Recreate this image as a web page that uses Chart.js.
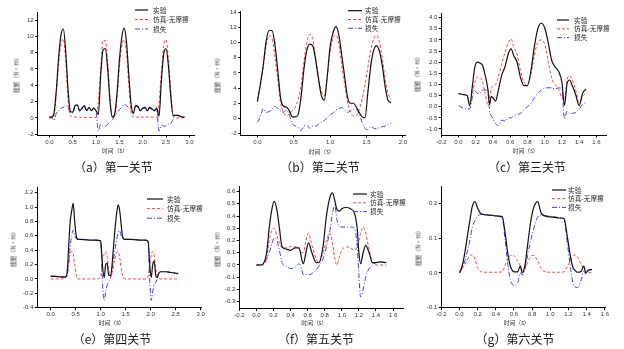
<!DOCTYPE html>
<html><head><meta charset="utf-8">
<script src="https://cdn.jsdelivr.net/npm/chart.js@4/dist/chart.umd.min.js"></script>
<style>
body{margin:0;width:624px;height:349px;background:#fff;position:relative;overflow:hidden;font-family:"Noto Sans CJK SC",sans-serif;}
canvas{position:absolute;}
.cap{position:absolute;font-size:12px;color:#1a1a1a;transform:translate(-50%,-50%);white-space:nowrap;}
.xt{position:absolute;font-size:5.8px;color:#333;transform:translate(-50%,-50%);white-space:nowrap;}
.yt{position:absolute;font-size:5.8px;color:#333;transform:translate(-50%,-50%) rotate(-90deg);white-space:nowrap;}
</style></head><body>
<script>
const seriesNames = ['实验', '仿真-无摩擦', '损失'];
const xTitle = '时间（s）';
const yTitle = '扭矩（N·m）';
const captions = ['（a）第一关节','（b）第二关节','（c）第三关节','（e）第四关节','（f）第五关节','（g）第六关节'];

// (a)
const aTime = [0,0.05,0.1,0.15,0.2,0.25,0.3,0.35,0.4,0.45,0.5,0.55,0.6,0.65,0.7,0.75,0.8,0.85,0.9,0.95,1.0,1.05,1.1,1.15,1.2,1.25,1.3,1.35,1.4,1.45,1.5,1.55,1.6,1.65,1.7,1.75,1.8,1.85,1.9,1.95,2.0,2.05,2.1,2.15,2.2,2.25,2.3,2.35,2.4,2.45,2.5,2.55,2.6,2.65,2.7,2.75,2.8,2.85,2.9];
const aExp  = [0.1,0.1,0.6,3.5,7.5,10.2,10.9,8.2,3.5,0.8,0.7,1.5,1.6,0.9,1.2,1.5,0.9,1.3,0.9,1.2,0.9,0.4,5.2,8.3,8.5,6.0,2.0,0.1,0.5,3.0,7.0,9.8,11.0,9.5,5.5,1.8,0.6,1.5,1.4,0.9,1.2,1.3,0.9,1.3,1.1,0.9,1.2,0.2,4.5,7.8,8.5,6.5,2.8,0.3,0.3,0.3,0.2,0.1,0.1];
const aSim  = [0,0,0.3,3.0,6.8,9.0,9.7,7.0,2.3,0.3,0.1,0.1,0.1,0.1,0.05,0.05,0.05,0.05,0.05,0.05,0.1,2.0,6.0,9.5,9.5,6.8,2.5,0.1,0.2,2.5,6.2,8.8,9.6,8.2,4.3,0.8,0.1,0.1,0.1,0.1,0.1,0.1,0.1,0.1,0.1,0.1,0.1,1.8,5.5,8.8,9.6,7.3,3.5,0.5,0,0,0,0,0];
const aLoss = [0.1,0.1,-0.3,0.6,0.9,1.2,1.3,1.5,1.3,0.6,0.6,1.4,1.5,0.8,1.1,1.4,0.9,1.2,0.9,1.1,0.8,-1.6,-0.8,-1.0,-1.0,-0.8,-0.5,-0.3,0.3,0.6,1.0,1.3,1.7,1.5,1.3,1.0,0.5,1.4,1.3,0.8,1.1,1.2,0.8,1.2,1.0,0.8,1.1,-1.6,-0.9,-1.0,-1.0,-0.8,-0.7,-0.2,0.3,0.3,0.2,0.1,0.1];
const aXLabels = ['0.0','0.5','1.0','1.5','2.0','2.5','3.0'];
const aYLabels = ['-2','0','2','4','6','8','10','12'];

// (b)
const bTime = [0,0.04,0.08,0.12,0.16,0.2,0.24,0.28,0.32,0.36,0.4,0.44,0.48,0.52,0.56,0.6,0.64,0.68,0.72,0.76,0.8,0.84,0.88,0.92,0.96,1.0,1.04,1.08,1.12,1.16,1.2,1.24,1.28,1.32,1.36,1.4,1.44,1.48,1.52,1.56,1.6,1.64,1.68,1.72,1.76,1.8,1.84];
const bExp  = [2.2,4.5,7.0,10.2,11.6,11.6,9.8,6.3,2.6,1.6,1.5,1.0,0.2,0.2,0.5,2.8,6.5,9.0,9.8,9.6,7.8,5.2,3.0,2.4,5.5,9.5,11.3,12.1,11.0,8.3,5.5,2.8,2.0,2.0,1.5,0.8,0.2,0.1,3.5,7.0,9.0,9.6,8.8,6.8,4.0,2.3,2.1];
const bSim  = [2.5,4.3,6.8,9.5,10.9,10.6,8.2,5.2,2.0,0.8,0.3,0.6,1.0,1.5,2.5,4.3,7.5,10.0,11.1,10.5,8.0,5.5,3.6,3.0,5.5,8.8,10.6,11.0,9.8,7.0,4.5,2.2,0.8,0.3,0.4,1.2,2.5,4.5,6.8,9.0,10.5,11.0,10.0,7.8,5.0,3.2,2.6];
const bLoss = [-0.5,0.2,1.3,0.8,0.9,1.2,1.6,1.3,1.0,0.8,1.1,0.4,-0.7,-1.0,-1.2,-1.6,-1.0,-0.9,-1.3,-1.0,-1.0,-0.8,-0.5,-0.3,0.1,0.5,0.7,1.1,1.3,1.4,1.1,0.8,1.0,1.2,1.2,0.6,-0.5,-1.3,-1.5,-1.1,-1.3,-1.4,-1.2,-1.1,-1.0,-0.8,-0.6];
const bXLabels = ['0.0','0.5','1.0','1.5','2.0'];
const bYLabels = ['-2','0','2','4','6','8','10','12','14'];

// (c)
const cTime = [0,0.05,0.1,0.13,0.16,0.19,0.22,0.25,0.28,0.31,0.34,0.36,0.38,0.4,0.43,0.46,0.5,0.54,0.58,0.61,0.64,0.68,0.72,0.76,0.8,0.84,0.88,0.92,0.96,1.0,1.04,1.08,1.12,1.16,1.2,1.23,1.26,1.29,1.32,1.36,1.4,1.44,1.48];
const cExp  = [0.6,0.55,0.5,0.05,0.9,1.8,2.0,1.95,1.85,1.4,0.8,0.1,0.45,0.4,0.25,0.7,1.4,1.8,2.4,2.6,2.3,2.0,1.3,0.95,0.95,1.6,2.7,3.5,3.75,3.55,2.9,2.1,1.8,1.6,1.1,0.05,1.05,1.2,0.95,0.55,0.05,0.6,0.8];
const cSim  = [0.6,0.55,0.5,0.1,0.6,1.1,1.35,1.3,1.1,0.6,0.1,0.4,0.8,0.95,1.0,1.3,1.9,2.45,2.9,3.05,2.7,2.35,1.6,1.1,1.0,1.45,2.3,2.9,3.0,2.8,2.05,1.3,1.0,0.8,0.4,0.3,1.2,1.4,1.2,0.75,0.1,0.45,0.6];
const cLoss = [0.05,-0.05,-0.1,-0.1,0.4,0.7,0.6,0.6,0.75,0.75,0.75,-0.2,-0.4,-0.55,-0.75,-0.85,-0.6,-0.65,-0.5,-0.5,-0.4,-0.35,-0.3,-0.15,0.0,0.15,0.4,0.6,0.75,0.85,0.85,0.85,0.8,0.85,0.8,-0.55,-0.2,-0.3,-0.3,-0.25,-0.1,0.1,0.2];
const cXLabels = ['-0.2','0.0','0.2','0.4','0.6','0.8','1.0','1.2','1.4','1.6'];
const cYLabels = ['-1.0','-0.5','0.0','0.5','1.0','1.5','2.0','2.5','3.0','3.5','4.0'];

// (e)
const eTime = [0,0.1,0.2,0.3,0.33,0.36,0.39,0.42,0.45,0.48,0.51,0.55,0.6,0.7,0.8,0.9,1.0,1.02,1.04,1.07,1.1,1.13,1.16,1.2,1.24,1.28,1.32,1.35,1.38,1.41,1.44,1.48,1.52,1.6,1.7,1.8,1.9,1.95,1.98,2.01,2.04,2.07,2.1,2.13,2.16,2.2,2.3,2.4,2.5,2.55];
const eExp  = [0.04,0.035,0.03,0.03,0.1,0.45,0.8,0.95,1.05,0.8,0.6,0.55,0.55,0.545,0.54,0.54,0.53,0.35,0.15,0.02,0.2,0.22,0.05,0.05,0.3,0.65,0.92,1.03,0.95,0.75,0.58,0.55,0.55,0.55,0.545,0.54,0.54,0.52,0.2,0.02,0.2,0.25,0.05,0.02,0.08,0.1,0.1,0.09,0.08,0.075];
const eSim  = [0,0,0,0.02,0.1,0.25,0.35,0.38,0.35,0.2,0.06,0,0,0,0,0,0.02,0.15,0.28,0.34,0.38,0.3,0.12,0.03,0.12,0.28,0.37,0.38,0.3,0.15,0.05,0,0,0,0,0,0,0.04,0.2,0.33,0.38,0.33,0.15,0.05,0.01,0,0,0,0,0];
const eLoss = [0.04,0.035,0.03,0.02,0.05,0.2,0.45,0.6,0.68,0.6,0.56,0.55,0.55,0.545,0.54,0.54,0.52,0.2,-0.12,-0.3,-0.18,-0.08,-0.04,0.02,0.2,0.38,0.55,0.65,0.67,0.6,0.56,0.55,0.55,0.55,0.545,0.54,0.54,0.5,0.0,-0.3,-0.18,-0.08,-0.05,0.0,0.07,0.1,0.1,0.09,0.08,0.075];
const eXLabels = ['0.0','0.5','1.0','1.5','2.0','2.5','3.0'];
const eYLabels = ['-0.4','-0.2','0.0','0.2','0.4','0.6','0.8','1.0','1.2'];

// (f)
const fTime = [0,0.05,0.08,0.12,0.15,0.18,0.21,0.24,0.27,0.3,0.35,0.4,0.45,0.5,0.53,0.55,0.58,0.61,0.65,0.7,0.73,0.78,0.82,0.86,0.89,0.92,0.94,0.97,1.0,1.05,1.1,1.15,1.18,1.2,1.22,1.25,1.28,1.32,1.36,1.4,1.45,1.52];
const fExp  = [0,0,0.01,0.1,0.3,0.45,0.52,0.45,0.3,0.15,0.13,0.12,0.14,0.14,0.05,0.01,0.1,0.18,0.1,0.02,0.02,0.15,0.4,0.55,0.59,0.52,0.46,0.44,0.46,0.47,0.46,0.42,0.3,0.1,0.01,0.1,0.16,0.1,0.02,0.02,0.025,0.02];
const fSim  = [0,0,0,0.05,0.2,0.28,0.3,0.24,0.18,0.14,0.14,0.15,0.15,0.13,0.1,0.1,0.2,0.26,0.16,0.05,0.02,0.1,0.2,0.26,0.18,0.05,0.0,0.06,0.12,0.15,0.14,0.12,0.15,0.2,0.26,0.31,0.26,0.12,0.02,0,0,0];
const fLoss = [0,0,0.01,0.05,0.1,0.17,0.22,0.2,0.12,0.02,-0.01,-0.03,-0.02,0.01,-0.04,-0.08,-0.08,-0.08,-0.07,-0.04,-0.01,0.05,0.15,0.28,0.42,0.49,0.38,0.32,0.31,0.31,0.31,0.3,0.15,-0.08,-0.26,-0.2,-0.1,-0.03,0.0,0.02,0.025,0.02];
const fXLabels = ['-0.2','0.0','0.2','0.4','0.6','0.8','1.0','1.2','1.4','1.6'];
const fYLabels = ['-0.3','-0.2','-0.1','0.0','0.1','0.2','0.3','0.4','0.5','0.6'];

// (g)
const gTime = [0,0.03,0.06,0.09,0.12,0.14,0.17,0.2,0.23,0.27,0.3,0.35,0.4,0.47,0.5,0.53,0.56,0.58,0.6,0.64,0.67,0.69,0.72,0.75,0.78,0.8,0.82,0.86,0.9,0.95,1.0,1.05,1.1,1.15,1.19,1.22,1.25,1.27,1.3,1.34,1.37,1.39,1.42,1.46];
const gExp  = [0,0.02,0.06,0.11,0.16,0.19,0.205,0.186,0.172,0.168,0.167,0.166,0.164,0.162,0.12,0.06,0.02,0.008,0.003,0.003,0.02,0.0,0.02,0.08,0.14,0.17,0.19,0.205,0.172,0.163,0.161,0.16,0.158,0.157,0.1,0.05,0.015,0.008,0.002,0.005,0.02,0.0,0.008,0.01];
const gSim  = [0,0.012,0.025,0.04,0.05,0.052,0.04,0.015,0.005,0.002,0.002,0.002,0.002,0.003,0.02,0.04,0.05,0.052,0.05,0.035,0.02,0.008,0.012,0.03,0.045,0.05,0.05,0.035,0.012,0.003,0.002,0.002,0.002,0.003,0.02,0.035,0.048,0.052,0.045,0.025,0.012,0.006,0.002,0];
const gLoss = [0,0.015,0.035,0.065,0.1,0.13,0.15,0.163,0.168,0.167,0.166,0.165,0.163,0.16,0.1,0.03,-0.02,-0.032,-0.036,-0.03,0.0,-0.006,0.01,0.05,0.09,0.11,0.13,0.16,0.166,0.165,0.163,0.161,0.159,0.156,0.08,0.02,-0.03,-0.04,-0.042,-0.02,0.005,-0.003,0.005,0.01];
const gXLabels = ['-0.2','0.0','0.2','0.4','0.6','0.8','1.0','1.2','1.4','1.6'];
const gYLabels = ['-0.1','0.0','0.1','0.2'];

// ---- layout (page pixel geometry of each panel) ----
const panels = [
 {t:aTime,exp:aExp,sim:aSim,loss:aLoss,xl:aXLabels,yl:aYLabels,cx:0,cy:0,w:208,h:160,L:37.7,T:12.3,R:194,B:135,xmin:-0.25,xmax:3.1,ymin:-2.1,ymax:12.95,
  lg:{x0:135,x1:148,tx:153,y:10,dy:9.5},yt:[15.7,74],xt:[115,150],cap:[113.5,165.7]},
 {t:bTime,exp:bExp,sim:bSim,loss:bLoss,xl:bXLabels,yl:bYLabels,cx:208,cy:0,w:208,h:160,L:240.7,T:11,R:405,B:135,xmin:-0.23,xmax:2.03,ymin:-2.19,ymax:14.17,
  lg:{x0:348,x1:362,tx:365,y:10.7,dy:8.8},yt:[216.7,74],xt:[321.7,150.7],cap:[320,166]},
 {t:cTime,exp:cExp,sim:cSim,loss:cLoss,xl:cXLabels,yl:cYLabels,cx:416,cy:0,w:208,h:160,L:441.3,T:13,R:606.7,B:135,xmin:-0.2,xmax:1.72,ymin:-1.27,ymax:4.21,
  lg:{x0:557,x1:569,tx:574,y:20,dy:8.8},yt:[417.3,73],xt:[525.7,149.5],cap:[527,166]},
 {t:eTime,exp:eExp,sim:eSim,loss:eLoss,xl:eXLabels,yl:eYLabels,cx:0,cy:175,w:208,h:160,L:37.3,T:187.3,R:201.7,B:307.7,xmin:-0.268,xmax:3.02,ymin:-0.4,ymax:1.275,
  lg:{x0:147,x1:163,tx:167,y:199,dy:9.6},yt:[13.3,248],xt:[111.7,322],cap:[112,338]},
 {t:fTime,exp:fExp,sim:fSim,loss:fLoss,xl:fXLabels,yl:fYLabels,cx:208,cy:175,w:208,h:160,L:239.3,T:186.7,R:403.3,B:308.3,xmin:-0.2,xmax:1.72,ymin:-0.354,ymax:0.64,
  lg:{x0:353,x1:367,tx:370,y:194,dy:8.8},yt:[216.7,248],xt:[314.3,322],cap:[316,338]},
 {t:gTime,exp:gExp,sim:gSim,loss:gLoss,xl:gXLabels,yl:gYLabels,cx:416,cy:175,w:208,h:160,L:441.3,T:186.7,R:605.7,B:307.7,xmin:-0.2,xmax:1.61,ymin:-0.1,ymax:0.248,
  lg:{x0:552,x1:566,tx:568,y:190,dy:8.7},yt:[418.3,247],xt:[516.7,321.7],cap:[515,338]}
];

const miniLegend = {
  id: 'miniLegend',
  afterDraw(chart, args, o) {
    const ctx = chart.ctx;
    ctx.save();
    chart.data.datasets.forEach((ds, i) => {
      const y = o.y + i * o.dy;
      ctx.strokeStyle = ds.borderColor;
      ctx.lineWidth = ds.borderWidth;
      ctx.setLineDash(ds.borderDash || []);
      ctx.beginPath(); ctx.moveTo(o.x0, y); ctx.lineTo(o.x1, y); ctx.stroke();
      ctx.setLineDash([]);
      ctx.fillStyle = '#222';
      ctx.font = '6.7px "Noto Sans CJK SC"';
      ctx.textBaseline = 'middle';
      ctx.fillText(ds.label, o.tx, y);
    });
    ctx.restore();
  }
};

function addDiv(cls, text, x, y) {
  const d = document.createElement('div');
  d.className = cls; d.textContent = text;
  d.style.left = x + 'px'; d.style.top = y + 'px';
  document.body.appendChild(d);
}

panels.forEach((p, k) => {
  const cv = document.createElement('canvas');
  cv.width = p.w; cv.height = p.h;
  cv.style.left = p.cx + 'px'; cv.style.top = p.cy + 'px';
  cv.style.width = p.w + 'px'; cv.style.height = p.h + 'px';
  document.body.appendChild(cv);
  const mk = arr => p.t.map((t, i) => ({x: t, y: arr[i]}));
  const xt = p.xl.map(Number), yt = p.yl.map(Number);
  const tickFont = {size: 6, family: '"Liberation Sans", Arial, sans-serif'};
  const grid = {drawOnChartArea: false, drawTicks: true, tickLength: 2.5, color: '#000', lineWidth: 1};
  new Chart(cv, {
    type: 'line',
    data: {datasets: [
      {label: seriesNames[0], data: mk(p.exp), borderColor: '#111', borderWidth: 1.2},
      {label: seriesNames[1], data: mk(p.sim), borderColor: '#ff4040', borderWidth: 1, borderDash: [3, 2]},
      {label: seriesNames[2], data: mk(p.loss), borderColor: '#3c3cff', borderWidth: 1, borderDash: [5, 2, 1, 2]}
    ]},
    options: {
      responsive: false, animation: false, devicePixelRatio: 1,
      layout: {padding: {top: p.T - p.cy, right: p.cx + p.w - p.R, left: 0, bottom: 0}},
      elements: {point: {radius: 0}, line: {cubicInterpolationMode: 'monotone', fill: false}},
      scales: {
        x: {type: 'linear', min: p.xmin, max: p.xmax,
            afterFit: s => { s.height = p.cy + p.h - p.B; },
            afterBuildTicks: s => { s.ticks = xt.map(v => ({value: v})); },
            ticks: {callback: (v, i) => p.xl[i], font: tickFont, color: '#333', padding: 1, maxRotation: 0, autoSkip: false},
            grid: grid, border: {display: true, color: '#000', width: 1}},
        y: {type: 'linear', min: p.ymin, max: p.ymax,
            afterFit: s => { s.width = p.L - p.cx; },
            afterBuildTicks: s => { s.ticks = yt.map(v => ({value: v})); },
            ticks: {callback: (v, i) => p.yl[i], font: tickFont, color: '#333', padding: 1.5, autoSkip: false},
            grid: grid, border: {display: true, color: '#000', width: 1}}
      },
      plugins: {legend: {display: false}, tooltip: {enabled: false},
        miniLegend: {x0: p.lg.x0 - p.cx, x1: p.lg.x1 - p.cx, tx: p.lg.tx - p.cx, y: p.lg.y - p.cy, dy: p.lg.dy}}
    },
    plugins: [miniLegend]
  });
  addDiv('yt', yTitle, p.yt[0], p.yt[1]);
  addDiv('xt', xTitle, p.xt[0], p.xt[1]);
  addDiv('cap', captions[k], p.cap[0], p.cap[1]);
});
</script>
</body></html>
